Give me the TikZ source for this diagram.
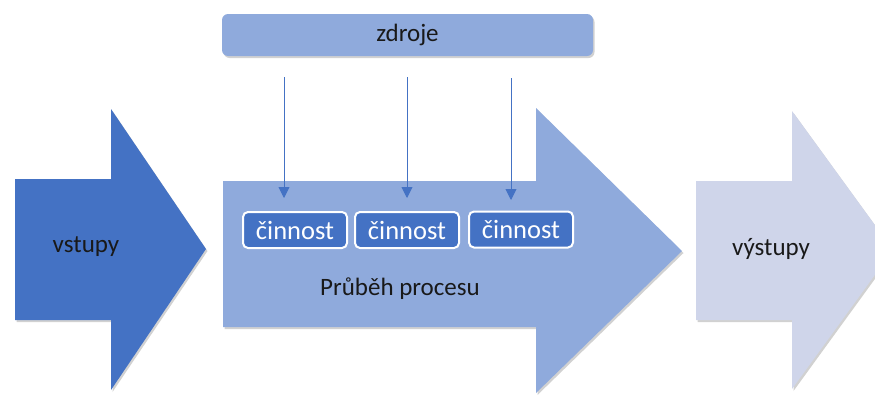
\documentclass[tikz,border=0pt]{standalone}
\usepackage{fontspec}
\setmainfont{Carlito}
\usetikzlibrary{arrows.meta,shadows}
\definecolor{dkblue}{HTML}{4472C4}
\definecolor{mdblue}{HTML}{8FAADC}
\definecolor{ltblue}{HTML}{CFD5EA}
\tikzset{
  softshadow/.style={drop shadow={shadow xshift=1.5pt, shadow yshift=-2pt, opacity=0.18, fill=black}},
  bigarrow/.style={draw=none, softshadow},
  lbl/.style={font=\fontsize{25}{30}\selectfont, text=black!90, inner sep=0pt},
  actbox/.style={draw=white, line width=2pt, fill=dkblue, rounded corners=5pt, minimum width=104pt, minimum height=36pt, text=white, font=\fontsize{26.5}{30}\selectfont, inner sep=0pt},
  srcbox/.style={fill=mdblue, rounded corners=6pt, minimum width=371pt, minimum height=42pt, font=\fontsize{25}{30}\selectfont, text=black!90, inner sep=0pt, softshadow},
  feed/.style={draw=dkblue, line width=0.9pt, -{Triangle[width=11pt,length=11pt]}}
}
\begin{document}
\begin{tikzpicture}[x=1pt,y=-1pt]
\useasboundingbox (0,0) rectangle (875,394);
\clip (0,0) rectangle (875,394);
% input arrow
\path[bigarrow, fill=dkblue] (15,179) -- (111,179) -- (111,109) -- (206,249) -- (111,390) -- (111,320) -- (15,320) -- cycle;
% process arrow
\path[bigarrow, fill=mdblue] (223,181) -- (536,181) -- (536,108) -- (682,251) -- (536,393) -- (536,327) -- (223,327) -- cycle;
% output arrow
\path[bigarrow, fill=ltblue] (696,181) -- (792,181) -- (792,111) -- (893,250) -- (792,389) -- (792,320) -- (696,320) -- cycle;
% labels
\node[lbl] (in) at (86,247) {vstupy};
\node[lbl] (proc) at (400,289) {Průběh procesu};
\node[lbl] (out) at (771,249) {výstupy};
% resources
\node[srcbox] (src) at (407.5,35) {zdroje};
% activities
\node[actbox] (a1) at (295,230) {činnost};
\node[actbox] (a2) at (407,230) {činnost};
\node[actbox] (a3) at (521,229.5) {činnost};
% feed arrows
\coordinate (s1) at (284,77);
\coordinate (e1) at (284,198);
\coordinate (s2) at (407,77);
\coordinate (e2) at (407,198);
\coordinate (s3) at (511,78);
\coordinate (e3) at (511,200);
\draw[feed] (s1) -- (e1);
\draw[feed] (s2) -- (e2);
\draw[feed] (s3) -- (e3);
\end{tikzpicture}
\end{document}
